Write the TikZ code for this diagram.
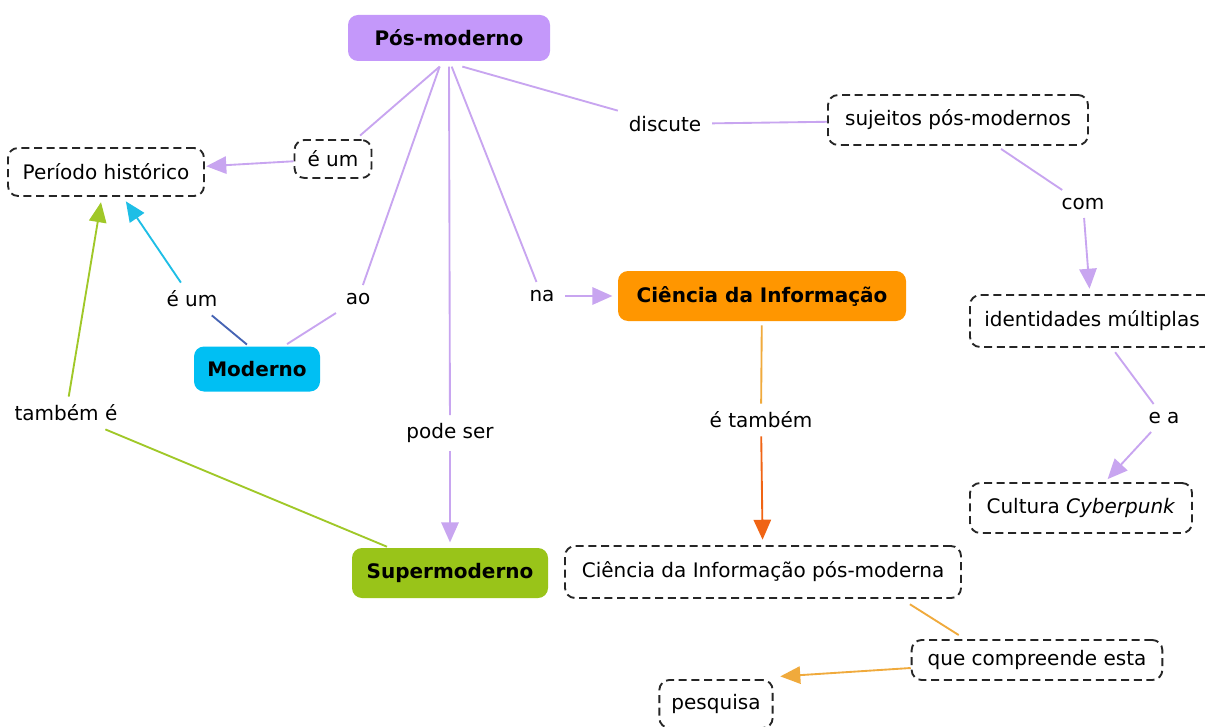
\documentclass[tikz,border=0pt]{standalone}
\usepackage{fontspec}
\setmainfont{DejaVu Sans}
\usetikzlibrary{arrows.meta}
\definecolor{vio}{RGB}{200,165,240}
\definecolor{viofill}{RGB}{196,152,250}
\definecolor{cyanfill}{RGB}{0,191,243}
\definecolor{cyanline}{RGB}{30,190,230}
\definecolor{blueline}{RGB}{70,100,180}
\definecolor{greenfill}{RGB}{153,196,25}
\definecolor{greenline}{RGB}{160,200,40}
\definecolor{orangefill}{RGB}{255,150,0}
\definecolor{orangeline}{RGB}{240,170,60}
\definecolor{darkorange}{RGB}{240,100,20}
\begin{document}
\begin{tikzpicture}[x=0.75pt,y=-0.75pt,
  every node/.style={font=\fontsize{15}{18}\selectfont, inner sep=0pt},
  concept/.style={draw=black!85, rounded corners=7.5pt, dash pattern=on 6pt off 3.5pt, line width=1.4pt},
  filledbox/.style={rounded corners=7.5pt, font=\fontsize{15}{18}\selectfont\bfseries},
  lbl/.style={inner xsep=8pt, inner ysep=6pt},
  link/.style={line width=1.4pt},
  tip/.style={-{Triangle[length=15pt,width=13pt]}},
  arr/.style={link, tip, shorten >=1pt}]
\useasboundingbox (0,0) rectangle (1205,727);
\fill[white] (0,0) rectangle (1205,727);

% main nodes
\node[filledbox, fill=viofill, minimum width=151.5pt, minimum height=34.5pt] (pm) at (449,38) {Pós-moderno};
\node[concept, minimum width=147pt, minimum height=36pt] (per) at (106,172) {Período histórico};
\node[concept, minimum width=57.75pt, minimum height=28.5pt] (eum1) at (333,159) {é um};
\node[lbl] (disc) at (665,124) {discute};
\node[concept, minimum width=195pt, minimum height=37.5pt] (suj) at (958,120) {sujeitos pós-modernos};
\node[lbl] (com) at (1083,204) {com};
\node[concept, minimum width=183pt, minimum height=39pt] (ident) at (1092,321) {identidades múltiplas};
\node[lbl] (ea) at (1164,418) {e a};
\node[concept, minimum width=166.5pt, minimum height=37.5pt] (cult) at (1081,508) {Cultura \textit{Cyberpunk}};
\node[filledbox, fill=orangefill, minimum width=216pt, minimum height=37.5pt] (ci) at (762,296) {Ciência da Informação};
\node[lbl] (na) at (542,296) {na};
\node[lbl] (eum2) at (192,299) {é um};
\node[lbl] (ao) at (358,299) {ao};
\node[filledbox, fill=cyanfill, minimum width=94.5pt, minimum height=33.75pt] (mod) at (257,369) {Moderno};
\node[lbl] (tamb) at (66,413) {também é};
\node[lbl] (pode) at (450,433) {pode ser};
\node[lbl] (etamb) at (761,420) {é também};
\node[filledbox, fill=greenfill, minimum width=147pt, minimum height=37.5pt] (sup) at (450,573) {Supermoderno};
\node[concept, minimum width=297pt, minimum height=39pt] (cipm) at (763,572) {Ciência da Informação pós-moderna};
\node[concept, minimum width=188pt, minimum height=30pt] (que) at (1037,660) {que compreende esta};
\node[concept, minimum width=85pt, minimum height=36pt] (pes) at (716,704) {pesquisa};

\coordinate (pmL) at ([xshift=-7pt,yshift=-4pt]pm.south);
\coordinate (pmC) at ([yshift=-4pt]pm.south);
\coordinate (pmR) at ([xshift=2pt,yshift=-4pt]pm.south);
\coordinate (pmD) at ([xshift=10pt,yshift=-4pt]pm.south);

% connectors
\draw[link, vio, shorten >=4pt] (pmL) -- (eum1);
\draw[arr, vio] (eum1) -- (per);
\draw[link, vio] (pmD) -- (disc);
\draw[link, vio] (disc) -- (suj);
\draw[link, vio, shorten <=4pt] (suj) -- (com);
\draw[arr, vio, shorten >=4pt] (com) -- (ident);
\draw[link, vio, shorten <=4pt] (ident) -- (ea);
\draw[arr, vio, shorten >=3pt] (ea) -- (cult);
\draw[link, vio] (pmL) -- (ao);
\draw[link, vio, shorten >=3pt] (ao) -- ([xshift=20pt]mod.north);
\draw[link, blueline, shorten <=2pt] ([xshift=-6pt]mod.north) -- (eum2);
\draw[arr, cyanline, shorten >=4pt] (eum2) -- (per);
\draw[link, vio] (pmR) -- (na);
\draw[arr, vio, shorten >=4pt] (na) -- (ci);
\draw[link, vio] (pmC) -- (pode);
\draw[arr, vio, shorten >=4pt] (pode) -- (sup);
\draw[link, greenline, shorten <=2pt] (sup) -- (tamb);
\draw[arr, greenline, shorten >=4pt] (tamb) -- (per);
\draw[link, orangeline, shorten <=3pt] (ci) -- (etamb);
\draw[arr, darkorange, shorten >=4pt] (etamb) -- (cipm);
\draw[link, orangeline] ([xshift=-39pt,yshift=-4pt]cipm.south east) -- ([xshift=36pt,yshift=3pt]que.north west);
\draw[link, orangeline, tip] ([yshift=-6pt]que.west) -- ([xshift=5pt,yshift=2pt]pes.north east);
\end{tikzpicture}
\end{document}
